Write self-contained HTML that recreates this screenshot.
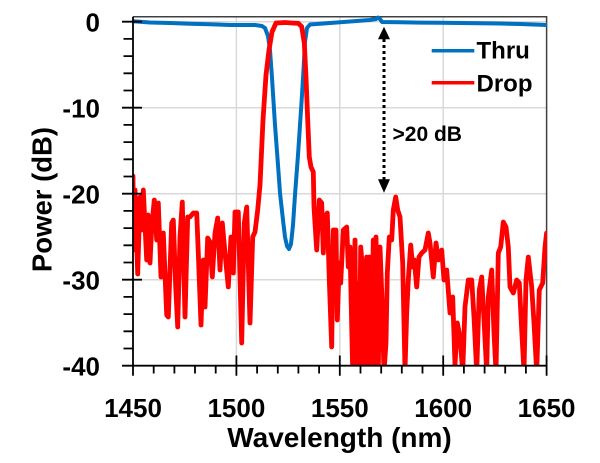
<!DOCTYPE html>
<html><head><meta charset="utf-8"><style>
html,body{margin:0;padding:0;background:#fff;}
svg{display:block;}
text{font-family:"Liberation Sans",Arial,sans-serif;font-weight:bold;fill:#000;}
</style></head><body>
<svg width="600" height="463" viewBox="0 0 600 463" xmlns="http://www.w3.org/2000/svg">
<defs><clipPath id="pa"><rect x="133" y="14" width="414" height="351.7"/></clipPath></defs>
<rect width="600" height="463" fill="#fff"/>
<path stroke="#d9d9d9" stroke-width="1.5" fill="none" d="M236.4 16.7V365.7M339.8 16.7V365.7M443.2 16.7V365.7M133 21.7H546.6M133 107.7H546.6M133 193.7H546.6M133 279.7H546.6"/>
<path stroke="#404040" stroke-width="1.5" fill="none" d="M133 16.7H546.6V365.7"/>
<g clip-path="url(#pa)" fill="none" stroke-linejoin="round" stroke-linecap="round">
<polyline stroke="#0070C0" stroke-width="4" points="133,21.3 150,22.5 170,23 190,23.8 210,24.2 230,25 255,25 262,26 265,28 268,36 270,50 272,78 275,125 278,165 280,193 283,220 285,237 287,246 289,249 291,244 293,225 295,195 298,155 300,125 302,95 303.5,70 305,42 307,28 310,24.5 330,23 350,21.5 370,20 376,19 378,17.5 380,19 382,22 400,22.3 420,22.6 440,22.8 460,23 480,23.3 500,23.5 520,24 546.6,25"/>
<polyline stroke="#FF0000" stroke-width="4.8" points="133,176 133,180 133.5,250 135,190 137.7,274 140,197 141.5,230 143.3,190 146.7,260 148,215 150,263 151.7,227 154.3,200 156.7,240 158.3,203 161,277 163.3,233 166.7,315 168.3,317 171.7,223 173.3,220 175.7,287 177.7,327 180,237 182.3,202 185,317 187.7,217 190,217 193.3,213 196.7,213 198.3,253 201,325 203.3,260 205,307 207.7,238 210,242 212.3,277 215,233 217.7,218 220,270 222.3,223 225,253 228.3,287 231,237 233.3,273 235,212 238.3,212 241.7,343 244.3,223 246.7,207 250,323 252.7,237 255,232 257.7,210 260,185 263,120 266,75 269,50 272,32 276,23 285,22.5 292,23 298.3,23.3 301.7,26.7 304.3,43 306,77 307.7,120 309.3,157 311,167 313.3,172 314,207 316.7,250 319.3,200 321.7,203 323.3,253 325,217 327.3,213 329.3,280 331.7,347 333.3,230 336,230 337.3,320 339.3,263 340.7,283 343.3,230 346.7,227 348.3,267 350,247 352.7,372 355,240 356,372 357.3,283 359.3,372 360.7,247 362.7,270 364,372 366.7,257 368,372 369.3,257 371,372 373.3,240 374.5,372 376,237 378.3,372 380,247 382,300 384,372 386,343 387.3,273 389.3,237 391.7,240 393.3,210 395.7,197 397.7,210 400,217 402.7,263 405,370 406.7,313 408.3,280 410.7,245 412.7,267 414.3,260 416.7,287 419,257 421.7,253 425,250 428.3,233 430,243 433.3,277 436,243 438.3,260 441.7,250 444,280 446.7,270 450,313 452.7,297 455,365 457.3,323 460,337 462.7,372 465,307 468.3,280 471.7,280 474,317 476.7,372 479.3,290 481.7,277 484,320 486.7,372 488.3,297 491.7,270 494,333 496,372 498.3,253 500.7,247 503.3,222 506,227 508.3,247 510,287 513.3,293 516.7,280 519.3,283 521.7,330 524,372 526,280 528.3,257 531.7,287 534,323 536.7,372 539.3,290 542.7,283 545,247 546.6,233"/>
</g>
<path stroke="#000" stroke-width="1.8" fill="none" d="M133 16.7V365.7H546.6M122 21.7H142M122 107.7H142M122 193.7H142M122 279.7H142M122 365.7H133M123.5 38.9H133M123.5 56.1H133M123.5 73.3H133M123.5 90.5H133M123.5 124.9H133M123.5 142.1H133M123.5 159.3H133M123.5 176.5H133M123.5 210.9H133M123.5 228.1H133M123.5 245.3H133M123.5 262.5H133M123.5 296.9H133M123.5 314.1H133M123.5 331.3H133M123.5 348.5H133M133 365.7V375.7M236.4 355.5V375.7M339.8 355.5V375.7M443.2 355.5V375.7M546.6 355.5V375.7M153.7 365.7V373.5M174.4 365.7V373.5M195 365.7V373.5M215.7 365.7V373.5M257.1 365.7V373.5M277.8 365.7V373.5M298.4 365.7V373.5M319.1 365.7V373.5M360.5 365.7V373.5M381.2 365.7V373.5M401.8 365.7V373.5M422.5 365.7V373.5M463.9 365.7V373.5M484.6 365.7V373.5M505.2 365.7V373.5M525.9 365.7V373.5"/>
<line x1="384" y1="39" x2="384" y2="179.5" stroke="#000" stroke-width="3" stroke-dasharray="3,3"/>
<polygon points="384,26.7 378,39.3 390,39.3" fill="#000"/>
<polygon points="384,192.7 378,179.3 390,179.3" fill="#000"/>
<text x="392.5" y="141" font-size="21">&gt;20 dB</text>
<line x1="431.7" y1="50.7" x2="474.3" y2="50.7" stroke="#0070C0" stroke-width="3.5"/>
<line x1="431.7" y1="82.7" x2="474.3" y2="82.7" stroke="#FF0000" stroke-width="3.5"/>
<text x="476.5" y="58.5" font-size="24">Thru</text>
<text x="476.5" y="91.5" font-size="24">Drop</text>
<g font-size="26" text-anchor="end">
<text x="100" y="31.3">0</text>
<text x="100" y="117.3">-10</text>
<text x="100" y="203.3">-20</text>
<text x="100" y="289.3">-30</text>
<text x="100" y="375.3">-40</text>
</g>
<g font-size="26" text-anchor="middle">
<text x="133" y="417">1450</text>
<text x="236.4" y="417">1500</text>
<text x="339.8" y="417">1550</text>
<text x="443.2" y="417">1600</text>
<text x="546.6" y="417">1650</text>
</g>
<text x="339.5" y="447" font-size="28" text-anchor="middle">Wavelength (nm)</text>
<text transform="translate(51.5,199.5) rotate(-90)" font-size="27.5" text-anchor="middle">Power (dB)</text>
</svg>
</body></html>
